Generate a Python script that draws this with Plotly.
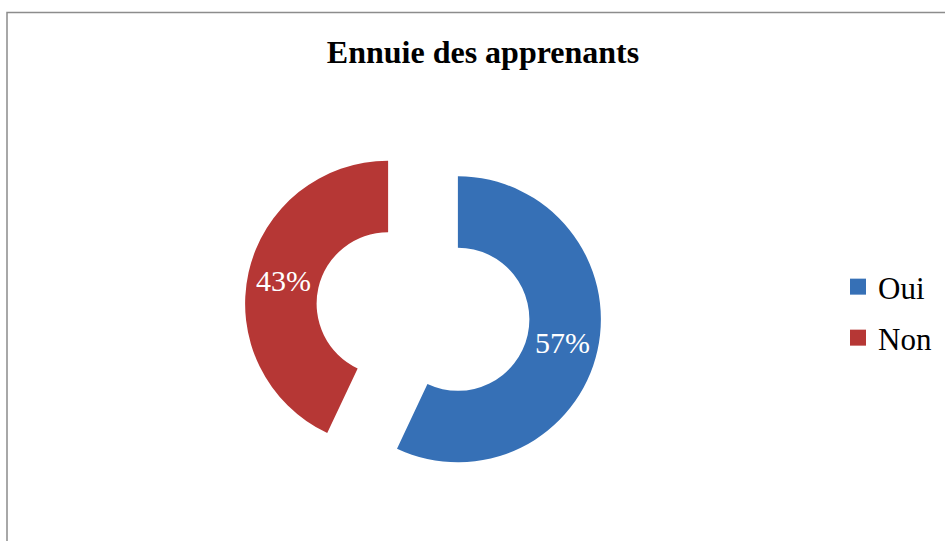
import plotly.graph_objects as go

# Data
labels = ["Oui", "Non"]
values = [57, 43]
colors = ["#3670b6", "#b63735"]
title_text = "Ennuie des apprenants"

W, H = 945, 541
FONT = "Liberation Serif"

fig = go.Figure()

# Donut (exploded)
cx, cy = 423, 311.5
half = 178.75
fig.add_trace(go.Pie(
    labels=labels,
    values=values,
    hole=0.5,
    pull=[0.25, 0.25],
    sort=False,
    direction="clockwise",
    rotation=0,
    marker=dict(colors=colors, line=dict(width=0)),
    textinfo="percent",
    texttemplate="%{percent:.0%}",
    textposition="inside",
    insidetextorientation="horizontal",
    textfont=dict(family=FONT, size=30, color="white"),
    showlegend=False,
    hoverinfo="label+percent",
    domain=dict(x=[(cx - half) / W, (cx + half) / W],
                y=[(H - cy - half) / H, (H - cy + half) / H]),
))

# Legend entries
legend_names = ["legend", "legend2"]
for lab, col, lg in zip(labels, colors, legend_names):
    fig.add_trace(go.Scatter(
        x=[None], y=[None], mode="markers", name=lab,
        marker=dict(symbol="square", size=16, color=col),
        showlegend=True, legend=lg, hoverinfo="skip",
    ))

def legend_style():
    return dict(font=dict(family=FONT, size=31, color="black"),
                bgcolor="rgba(0,0,0,0)", borderwidth=0,
                xanchor="left", yanchor="middle", itemwidth=30)

fig.update_layout(
    width=W, height=H,
    margin=dict(l=0, r=0, t=0, b=0),
    paper_bgcolor="white",
    plot_bgcolor="white",
    title=dict(text="<b>" + title_text + "</b>", x=483 / W, xanchor="center",
               y=1 - 52 / H, yanchor="middle", yref="paper",
               font=dict(family=FONT, size=32, color="black")),
    xaxis=dict(visible=False),
    yaxis=dict(visible=False),
    legend=dict(x=838 / W, y=1 - 287 / H, **legend_style()),
    legend2=dict(x=838 / W, y=1 - 338 / H, **legend_style()),
    shapes=[dict(type="rect", xref="paper", yref="paper",
                 x0=7 / W, x1=1.05, y0=-0.05, y1=1 - 12.5 / H,
                 line=dict(color="#8c8c8c", width=1.5), layer="below")],
)

fig.write_html("out.html")
